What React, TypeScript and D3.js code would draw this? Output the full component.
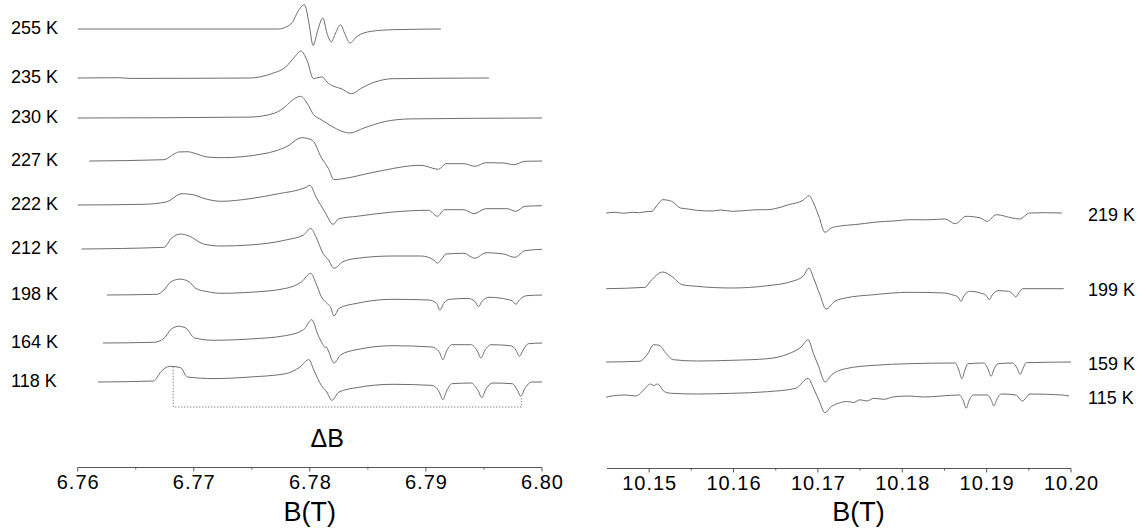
import React from "react";
import * as d3 from "d3";

type Pt = [number, number];

// ---- left panel spectra: [B (T), signal (a.u.)] ----
const spec255: Pt[] = [
  [6.76, 0], [6.7773, 0], [6.77792, 1.9], [6.77854, 7.5], [6.77898, 17.7], [6.77954, 24.3],
  [6.77992, 6], [6.78028, -16.5], [6.78069, -0.7], [6.78112, 11], [6.78147, -4], [6.78185, -12.8],
  [6.78222, -4], [6.78263, 4.3], [6.78299, -4], [6.78345, -14], [6.78406, -7.4], [6.7853, -2.3],
  [6.78715, -0.7], [6.79129, 0],
];
const spec235: Pt[] = [
  [6.76, 0], [6.7635, 0.3], [6.7645, -0.4], [6.77484, 0], [6.77668, 4.3], [6.77792, 11], [6.77868, 21],
  [6.77923, 27], [6.77975, 17.7], [6.78032, -0.7], [6.78069, 0.4], [6.78109, 1], [6.78146, -4],
  [6.78208, -8.4], [6.78268, -10.6], [6.78361, -15.7], [6.78438, -10.6], [6.78561, -4],
  [6.78715, -0.7], [6.79543, 0],
];
const spec230: Pt[] = [
  [6.76, 0], [6.77484, 0.9], [6.77699, 5], [6.77792, 11.7], [6.77854, 18.3], [6.77921, 21.7],
  [6.77975, 15], [6.78032, 3.4], [6.78099, -1.7], [6.7819, -8.4], [6.78345, -15], [6.78466, -10],
  [6.78653, -3.4], [6.78868, -0.9], [6.8, 0],
];
const spec227: Pt[] = [
  [6.761, 0], [6.76743, 1.3], [6.7683, 7], [6.76869, 9], [6.7695, 9.3], [6.77, 8], [6.77114, 4],
  [6.77234, 3.3], [6.77605, 7.3], [6.77794, 14], [6.77932, 23.3], [6.78022, 20.7], [6.78096, 4],
  [6.78161, -7.7], [6.78208, -18.7], [6.78285, -17.7], [6.78561, -11], [6.78957, -4.3],
  [6.79109, -8.3], [6.79172, -2.7], [6.79327, -2.7], [6.79422, -5.3], [6.79517, -1.7],
  [6.79668, -2], [6.79758, -3.7], [6.79853, -0.3], [6.8, 0],
];
const spec222: Pt[] = [
  [6.76, 0], [6.76562, 0.7], [6.76761, 3], [6.76898, 11.3], [6.76993, 10.3], [6.77096, 6.3],
  [6.77234, 3.7], [6.77484, 6.3], [6.7773, 11.3], [6.77958, 17.3], [6.78001, 19.7], [6.78053, 8],
  [6.7813, -7], [6.78199, -19.3], [6.78251, -13.7], [6.78406, -11.3], [6.78716, -7],
  [6.79022, -5.3], [6.79099, -11.3], [6.7916, -4.7], [6.79327, -4.7], [6.79413, -8.7],
  [6.79517, -3.7], [6.79698, -3.7], [6.79775, -6.3], [6.79853, -1.3], [6.8, -0.7],
];
const spec212: Pt[] = [
  [6.76032, 0], [6.76743, 1.7], [6.76807, 10.7], [6.76885, 15], [6.76959, 13], [6.77084, 5],
  [6.77234, 3], [6.77484, 4], [6.77792, 9], [6.77946, 14], [6.78007, 20.5], [6.78053, 12],
  [6.78113, -4.3], [6.78161, -11], [6.78208, -19.3], [6.78285, -12.7], [6.78406, -9.3],
  [6.78716, -7], [6.78957, -7], [6.79068, -11], [6.79099, -14.3], [6.79135, -10], [6.79172, -5],
  [6.79327, -4.3], [6.79422, -9.3], [6.79517, -3.7], [6.79668, -5], [6.79767, -8.3],
  [6.79853, -1.7], [6.8, -0.3],
];
const spec198: Pt[] = [
  [6.76252, 0], [6.76683, 0.7], [6.76743, 5], [6.76804, 13.3], [6.76881, 15.9], [6.76959, 13.3],
  [6.77019, 6.5], [6.77114, 3.4], [6.77234, 1.7], [6.77484, 2.7], [6.77792, 6.6], [6.7793, 13.3],
  [6.78007, 21.7], [6.78053, 11.7], [6.78099, -1.7], [6.78146, -8.3], [6.78177, -11.7],
  [6.78208, -21], [6.78251, -13.3], [6.78406, -8.3], [6.78716, -4.3], [6.79022, -5],
  [6.7909, -8], [6.79121, -15], [6.79155, -8], [6.79207, -4.3], [6.79362, -3.4], [6.79422, -6.5],
  [6.79453, -11.7], [6.79485, -6], [6.79543, -2.3], [6.79698, -4.3], [6.79745, -6],
  [6.79775, -9.3], [6.79805, -5], [6.79868, -0.7], [6.8, 0],
];
const spec164: Pt[] = [
  [6.76218, 0], [6.76654, 0.7], [6.76746, 5], [6.76807, 14], [6.76869, 16.7], [6.7693, 15],
  [6.77007, 5], [6.77174, 2.7], [6.77484, 4], [6.77792, 7.4], [6.77946, 13.3], [6.78016, 23.3],
  [6.78069, 8.4], [6.78113, -1.7], [6.7813, -4.5], [6.78143, -4], [6.7816, -8], [6.78208, -20],
  [6.78268, -11.7], [6.78406, -6.6], [6.78716, -2.7], [6.79052, -4], [6.79115, -9],
  [6.79146, -16.7], [6.79178, -8], [6.79224, -1.7], [6.79388, -1.7], [6.79443, -8],
  [6.79474, -15], [6.79505, -8], [6.7956, -1.7], [6.7973, -2.7], [6.79775, -7], [6.79806, -13.3],
  [6.79837, -7], [6.79884, -0.7], [6.8, 0],
];
const spec118: Pt[] = [
  [6.76175, 0], [6.76654, 1], [6.76715, 10], [6.76792, 15.7], [6.76885, 14.4], [6.76946, 5],
  [6.77174, 3.4], [6.77484, 5], [6.77792, 8.3], [6.77915, 15], [6.77992, 22.4], [6.78035, 11.7],
  [6.78099, -3.4], [6.78146, -10], [6.7819, -18.3], [6.78251, -10], [6.78406, -5.6],
  [6.78716, -2.3], [6.79052, -3.4], [6.79115, -10], [6.79146, -17.7], [6.79178, -9],
  [6.79224, -1.7], [6.79388, -1], [6.79451, -9], [6.79482, -15.7], [6.79513, -8], [6.79577, -1],
  [6.79745, -1.7], [6.79787, -8], [6.79818, -14.4], [6.7985, -7], [6.79913, 0], [6.8, 0],
];

// ---- right panel spectra ----
const spec219: Pt[] = [
  [10.1449, 0], [10.146, 0.7], [10.147, -0.3], [10.148, 0.7], [10.14887, 0.3], [10.14951, 1.2],
  [10.15034, 1.7], [10.15098, 8.3], [10.15161, 13.3], [10.15266, 11.7], [10.15371, 5],
  [10.1548, 3.8], [10.15561, 2.7], [10.1575, 2], [10.1585, 3], [10.1598, 1.7], [10.1615, 2.5],
  [10.163, 3.3], [10.16402, 3.3], [10.165, 4.5], [10.16654, 8.3], [10.16823, 12.7],
  [10.16896, 17.3], [10.16948, 10], [10.17011, -3.3], [10.17084, -19.3], [10.17157, -15],
  [10.1724, -13.3], [10.1735, -12.2], [10.1745, -11.5], [10.1755, -10.5], [10.17664, -9.3],
  [10.1779, -8.4], [10.179, -8], [10.18082, -6.7], [10.183, -6.8], [10.18505, -6],
  [10.18628, -10.7], [10.18757, -3.3], [10.18925, -5], [10.19008, -8.3], [10.19114, -1.7],
  [10.19304, -5], [10.19387, -6], [10.19514, 0], [10.197, 0.3], [10.19893, 0],
];
const spec199: Pt[] = [
  [10.1449, -0.7], [10.14951, 0.7], [10.15014, 6.7], [10.15161, 16], [10.15266, 11.7],
  [10.15392, 3.3], [10.15561, 1.7], [10.1598, 0], [10.16402, 2.3], [10.16695, 6.7],
  [10.16823, 11.7], [10.16894, 20], [10.16948, 10], [10.17024, -6.7], [10.17095, -21],
  [10.17201, -13.3], [10.17327, -10], [10.17664, -6.7], [10.18082, -4.3], [10.18505, -5],
  [10.18589, -6.7], [10.1866, -9], [10.18695, -13.3], [10.1873, -8], [10.18799, -3.3],
  [10.18925, -5], [10.18995, -7.5], [10.19031, -11.7], [10.19066, -7], [10.19136, -2.7],
  [10.19262, -3.3], [10.1931, -6], [10.19346, -9], [10.1938, -5], [10.1943, -0.7], [10.19914, -0.7],
];
const spec159: Pt[] = [
  [10.1449, 0], [10.14887, 0.7], [10.14971, 6.7], [10.15055, 17.3], [10.15117, 16.7],
  [10.15202, 8.3], [10.15286, 2.3], [10.15561, 1], [10.1598, 1.7], [10.16402, 3.3],
  [10.16654, 8.3], [10.16801, 15], [10.16884, 22.3], [10.16948, 8.3], [10.17011, -5],
  [10.17084, -20], [10.17157, -13.3], [10.17327, -6.7], [10.17664, -3.3], [10.18082, -1.7],
  [10.18628, -1], [10.1867, -8], [10.18706, -16.7], [10.18742, -8], [10.18779, -1.7],
  [10.18967, -1], [10.19016, -7], [10.19052, -14.3], [10.19088, -7], [10.19136, -1.7],
  [10.19304, -1], [10.19361, -6], [10.19397, -12.3], [10.19433, -6], [10.1947, -0.7], [10.2, 0],
];
const spec115: Pt[] = [
  [10.1449, -1.3], [10.1458, 0.3], [10.14719, 1], [10.14844, 0], [10.14927, 5.3], [10.15014, 12],
  [10.15055, 10.5], [10.15098, 12], [10.15182, 4.3], [10.15266, 2.7], [10.15561, 2], [10.1598, 2.7],
  [10.16402, 4.3], [10.16738, 7.7], [10.16884, 17.7], [10.16948, 7.7], [10.17011, -4],
  [10.17084, -16.7], [10.17157, -10.7], [10.1724, -7.3], [10.1735, -5.5], [10.1742, -6.5],
  [10.175, -3.8], [10.1758, -5], [10.17664, -2.3], [10.1778, -3.3], [10.179, -0.8],
  [10.18082, 0], [10.1825, -1], [10.18673, 1], [10.18725, -5], [10.18757, -12.3], [10.1879, -5],
  [10.18842, 1], [10.19008, 1], [10.19055, -4], [10.19085, -10], [10.19118, -4], [10.19174, 2],
  [10.19346, 1], [10.19422, -5], [10.19514, 2], [10.19893, 1], [10.19977, 0],
];

const leftLabels = ["255 K", "235 K", "230 K", "227 K", "222 K", "212 K", "198 K", "164 K", "118 K"];
const leftOffsets = [438, 389, 349, 306, 262, 218, 172, 124, 85];
const leftSpectra = [spec255, spec235, spec230, spec227, spec222, spec212, spec198, spec164, spec118];

const rightLabels = ["219 K", "199 K", "159 K", "115 K"];
const rightOffsets = [254, 179, 105, 71];
const rightSpectra = [spec219, spec199, spec159, spec115];

const leftTicks = [6.76, 6.77, 6.78, 6.79, 6.8];
const leftTickLabels = ["6.76", "6.77", "6.78", "6.79", "6.80"];
const leftMinor = [6.765, 6.775, 6.785, 6.795];
const rightTicks = [10.15, 10.16, 10.17, 10.18, 10.19, 10.2];
const rightTickLabels = ["10.15", "10.16", "10.17", "10.18", "10.19", "10.20"];
const rightMinor = [10.155, 10.165, 10.175, 10.185, 10.195];

// ΔB bracket on the 118 K trace (B positions, signal levels relative to that trace)
const deltaB = [6.76823, 6.79822];
const deltaTops = [15.3, -14.4];
const deltaLevel = -25;

const FONT = "'Liberation Sans', Arial, Helvetica, sans-serif";
const TRACE = "#6e6e6e";

export default function App() {
  const W = 1146, H = 532;
  const xL = d3.scaleLinear().domain([6.76, 6.8]).range([77.7, 542]);
  const xR = d3.scaleLinear().domain([10.145, 10.2]).range([607, 1071]);
  const y = d3.scaleLinear().domain([0, 460]).range([467, 7]);
  const axisY = y(0) + 0.5;

  const mkLine = (x: d3.ScaleLinear<number, number>, off: number) =>
    d3.line<Pt>().x((d) => x(d[0])).y((d) => y(off + d[1])).curve(d3.curveMonotoneX);

  const off118 = leftOffsets[8];
  const bracket: Pt[] = [
    [deltaB[0], off118 + deltaTops[0]],
    [deltaB[0], off118 + deltaLevel],
    [deltaB[1], off118 + deltaLevel],
    [deltaB[1], off118 + deltaTops[1]],
  ];
  const bracketPath = d3.line<Pt>().x((d) => xL(d[0])).y((d) => y(d[1]))(bracket) || "";

  return (
    <svg width={W} height={H} style={{ position: "absolute", left: 0, top: 0, display: "block", background: "#fff" }}>
      <rect x={0} y={0} width={W} height={H} fill="#fff" />
      {leftSpectra.map((s, i) => (
        <path key={"l" + i} d={mkLine(xL, leftOffsets[i])(s) || ""} fill="none" stroke={TRACE} strokeWidth={1} />
      ))}
      {rightSpectra.map((s, i) => (
        <path key={"r" + i} d={mkLine(xR, rightOffsets[i])(s) || ""} fill="none" stroke={TRACE} strokeWidth={1} />
      ))}
      {leftLabels.map((t, i) => (
        <text key={"ll" + i} x={11} y={y(leftOffsets[i]) - 1} dominantBaseline="central" fontFamily={FONT} fontSize={18} fill="#000">{t}</text>
      ))}
      {rightLabels.map((t, i) => (
        <text key={"rl" + i} x={1088} y={y(rightOffsets[i]) + 2} dominantBaseline="central" fontFamily={FONT} fontSize={18} fill="#000">{t}</text>
      ))}
      <path d={bracketPath} fill="none" stroke="#8a8a8a" strokeWidth={1} strokeDasharray="1.5,1.5" />
      <text x={xL(6.7815)} y={y(0) - 20} textAnchor="middle" fontFamily={FONT} fontSize={25} fill="#000">ΔB</text>

      {/* left axis */}
      <line x1={xL(6.76)} x2={xL(6.8)} y1={axisY} y2={axisY} stroke="#555" strokeWidth={1.2} />
      {leftTicks.map((t, i) => (
        <g key={"lt" + i}>
          <line x1={xL(t)} x2={xL(t)} y1={axisY} y2={axisY + 4} stroke="#555" strokeWidth={1} />
          <text x={xL(t) + 0.5} y={y(0) + 22} textAnchor="middle" fontFamily={FONT} fontSize={20} letterSpacing={1} fill="#000">{leftTickLabels[i]}</text>
        </g>
      ))}
      {leftMinor.map((t, i) => (
        <line key={"lm" + i} x1={xL(t)} x2={xL(t)} y1={axisY} y2={axisY + 2} stroke="#555" strokeWidth={1} />
      ))}
      <text x={(xL(6.76) + xL(6.8)) / 2} y={y(0) + 54} textAnchor="middle" fontFamily={FONT} fontSize={27} fill="#000">B(T)</text>

      {/* right axis */}
      <line x1={xR(10.145)} x2={xR(10.2)} y1={axisY + 1} y2={axisY + 1} stroke="#555" strokeWidth={1.2} />
      {rightTicks.map((t, i) => (
        <g key={"rt" + i}>
          <line x1={xR(t)} x2={xR(t)} y1={axisY + 1} y2={axisY + 5} stroke="#555" strokeWidth={1} />
          <text x={xR(t) + 0.5} y={y(0) + 23} textAnchor="middle" fontFamily={FONT} fontSize={20} letterSpacing={1} fill="#000">{rightTickLabels[i]}</text>
        </g>
      ))}
      {rightMinor.map((t, i) => (
        <line key={"rm" + i} x1={xR(t)} x2={xR(t)} y1={axisY + 1} y2={axisY + 3} stroke="#555" strokeWidth={1} />
      ))}
      <text x={xR(10.1748)} y={y(0) + 54} textAnchor="middle" fontFamily={FONT} fontSize={27} fill="#000">B(T)</text>
    </svg>
  );
}
